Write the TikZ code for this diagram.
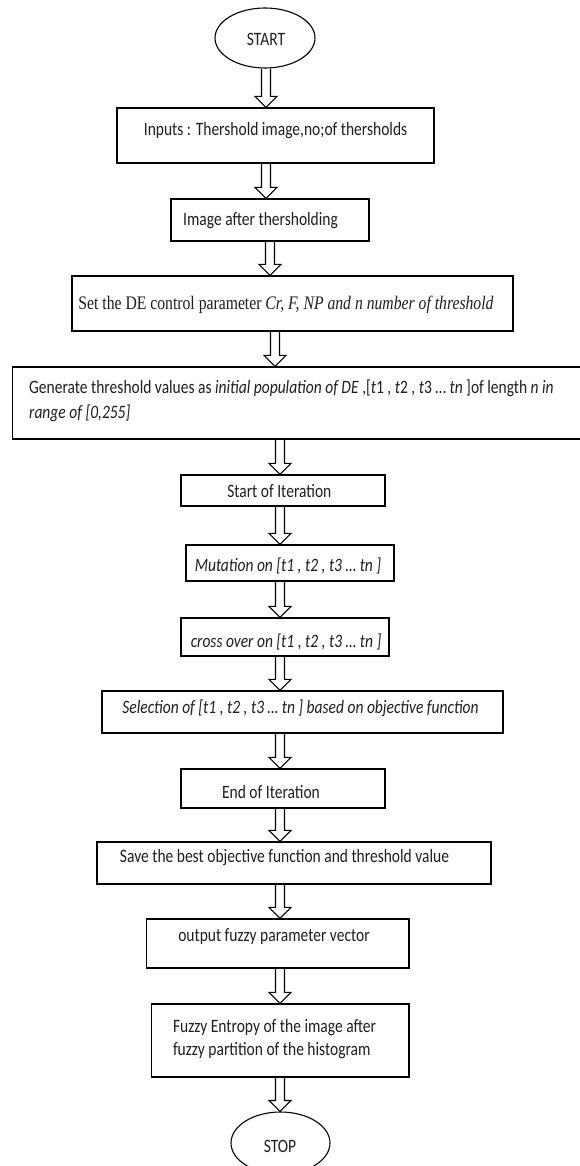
\documentclass[tikz,border=0pt]{standalone}
\usepackage{fontspec}
\usepackage{graphicx}
\setmainfont{Carlito}
\newfontfamily\tnr{Liberation Serif}
\usetikzlibrary{shapes.geometric,calc}
\newcommand\vs[1]{\scalebox{1}[1.22]{#1}}
\tikzset{
  box/.style={draw=black, line width=1.3pt, inner sep=0pt, rectangle},
  term/.style={draw=black, line width=1.1pt, inner sep=0pt, ellipse},
  txt/.style={inner sep=0pt, text=black!88, font=\fontsize{15.5}{18}\selectfont},
  harrow/.style={draw=black, line width=1.1pt, line join=miter},
}
\newcommand\hollowarrow[3]{%
  \draw[harrow] let \p1=(#2.south), \p2=(#3.north) in
    ({#1pt-4.5pt},\y1) -- ({#1pt-4.5pt},{\y2+11pt}) -- ({#1pt-11pt},{\y2+11pt})
    -- (#1pt,\y2) -- ({#1pt+11pt},{\y2+11pt}) -- ({#1pt+4.5pt},{\y2+11pt})
    -- ({#1pt+4.5pt},\y1);}
\begin{document}
\begin{tikzpicture}[x=1pt,y=-1pt]
\useasboundingbox (0,0) rectangle (580,1166);
\clip (0,0) rectangle (580,1166);
\fill[white] (0,0) rectangle (580,1166);
% terminals
\node[term, minimum width=100pt, minimum height=60pt] (start) at (265,38) {};
\node[txt] (tstart) at (266,39) {\vs{START}};
\node[term, minimum width=99pt, minimum height=62pt] (stop) at (280.5,1143) {};
\node[txt] (tstop) at (280,1146) {\vs{STOP}};
% boxes
\node[box, minimum width=317pt, minimum height=55pt] (inputs) at (275.5,135.5) {};
\node[txt] (tinputs) at (275.6,131) {\vs{Inputs : Thershold image,no;of thersholds}};
\node[box, minimum width=198pt, minimum height=42pt] (image) at (270,220) {};
\node[txt] (timage) at (260.5,221) {\vs{Image after thersholding}};
\node[box, minimum width=441pt, minimum height=55pt] (setde) at (292.5,303.5) {};
\node[txt, font=\tnr\fontsize{15.7}{18}\selectfont] (tsetde) at (286,305) {\vs{Set the DE control parameter \textit{Cr, F, NP and n number of threshold}}};
\node[box, minimum width=577.3pt, minimum height=72pt] (gen) at (301.35,403) {};
\node[txt, anchor=west] (tgen) at (29,401) {\vs{\fontsize{15.5}{21}\selectfont\begin{tabular}{@{}l@{}}Generate threshold values as \textit{initial population of DE} ,[\textit{t}1 , \textit{t}2 , \textit{t}3 … \textit{tn} ]of length \textit{n in}\\\textit{range of [0,255]}\end{tabular}}};
\node[box, minimum width=204pt, minimum height=31pt] (startit) at (283,490.5) {};
\node[txt] (tstartit) at (279.3,491) {\vs{Start of Iteration}};
\node[box, minimum width=208pt, minimum height=36pt] (mut) at (290,563) {};
\node[txt] (tmut) at (288,566) {\vs{\textit{Mutation on [t1 , t2 , t3 … tn ]}}};
\node[box, minimum width=208pt, minimum height=38pt] (cross) at (285,637) {};
\node[txt] (tcross) at (286,642) {\vs{\textit{cross over on [t1 , t2 , t3 … tn ]}}};
\node[box, minimum width=401pt, minimum height=42pt] (sel) at (302.5,712) {};
\node[txt] (tsel) at (300.5,708) {\vs{\textit{Selection of [t1 , t2 , t3 … tn ] based on objective function}}};
\node[box, minimum width=204pt, minimum height=39pt] (endit) at (283,788.5) {};
\node[txt] (tendit) at (271,792) {\vs{End of Iteration}};
\node[box, minimum width=394pt, minimum height=42pt] (save) at (294,863) {};
\node[txt] (tsave) at (284.5,858) {\vs{Save the best objective function and threshold value}};
\node[box, minimum width=262.5pt, minimum height=49pt] (out) at (277.75,943.5) {};
\node[txt] (tout) at (274,937) {\vs{output fuzzy parameter vector}};
\node[box, minimum width=257.3pt, minimum height=73pt] (fuzzy) at (280.35,1040.5) {};
\node[txt, anchor=west] (tfuzzy) at (172.8,1039) {\vs{\fontsize{15.5}{19}\selectfont\begin{tabular}{@{}l@{}}Fuzzy Entropy of the image after\\fuzzy partition of the histogram\end{tabular}}};
% connectors
\hollowarrow{266}{start}{inputs}
\hollowarrow{266}{inputs}{image}
\hollowarrow{270}{image}{setde}
\hollowarrow{275}{setde}{gen}
\hollowarrow{280}{gen}{startit}
\hollowarrow{280}{startit}{mut}
\hollowarrow{280}{mut}{cross}
\hollowarrow{280}{cross}{sel}
\hollowarrow{280}{sel}{endit}
\hollowarrow{280}{endit}{save}
\hollowarrow{280}{save}{out}
\hollowarrow{280}{out}{fuzzy}
\hollowarrow{280}{fuzzy}{stop}
\end{tikzpicture}
\end{document}
